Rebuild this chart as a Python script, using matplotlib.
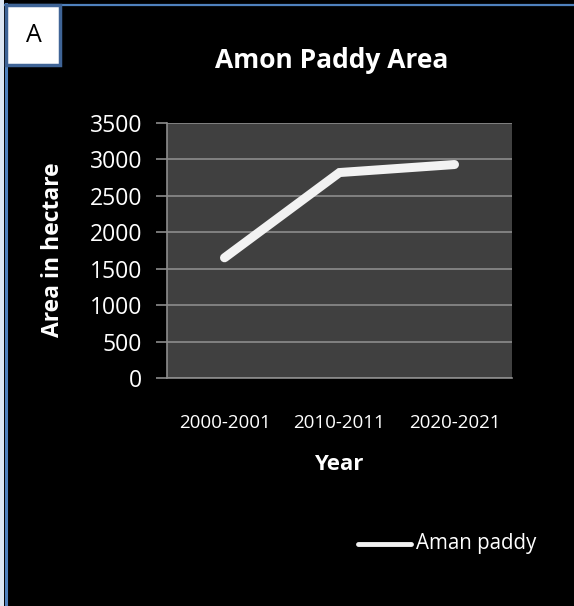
import matplotlib
matplotlib.use("Agg")
import matplotlib.pyplot as plt
from matplotlib.patches import Rectangle
from matplotlib.lines import Line2D

categories = ["2000-2001", "2010-2011", "2020-2021"]
aman_paddy = [1650, 2820, 2930]
yticks = [0, 500, 1000, 1500, 2000, 2500, 3000, 3500]

plt.rcParams['font.family'] = ['Open Sans', 'DejaVu Sans']

W, H = 574, 606
fig = plt.figure(figsize=(W/100, H/100), dpi=100)
fig.patch.set_facecolor('black')

def fx(px): return px / W
def fy(py): return 1 - py / H

# left white strip and blue borders (top & left)
fig.patches.append(Rectangle((0, 0), fx(4), 1, transform=fig.transFigure,
                             facecolor='#dce6f2', edgecolor='none', zorder=0))
fig.add_artist(Line2D([fx(5.5), fx(5.5)], [0, fy(4)], transform=fig.transFigure,
                      color='#4f81bd', lw=2.2))
fig.add_artist(Line2D([fx(5), 1], [fy(4.5), fy(4.5)], transform=fig.transFigure,
                      color='#4f81bd', lw=1.6))

ax = fig.add_axes([fx(167), fy(378), fx(512) - fx(167), fy(123) - fy(378)])
ax.set_facecolor('#404040')
x = list(range(len(categories)))
ax.plot(x, aman_paddy, color='#f2f2f2', lw=6.5, solid_capstyle='round',
        solid_joinstyle='miter', label='Aman paddy', zorder=3)
ax.set_xlim(-0.5, len(categories) - 0.5)
ax.set_ylim(0, 3500)
ax.set_yticks(yticks)
ax.set_yticklabels([str(v) for v in yticks])
ax.set_xticks(x)
ax.set_xticklabels(categories)
ax.yaxis.grid(True, color='#8c8c8c', lw=1.2)
ax.set_axisbelow(True)
for s in ['top', 'right']:
    ax.spines[s].set_visible(False)
ax.spines['left'].set_color('#8c8c8c')
ax.spines['bottom'].set_color('#8c8c8c')
ax.spines['left'].set_linewidth(1.2)
ax.spines['bottom'].set_linewidth(1.2)
ax.tick_params(axis='y', colors='#8c8c8c', length=8, width=1.2, labelcolor='white',
               labelsize=16.5, pad=10)
ax.tick_params(axis='x', length=0, labelcolor='white', labelsize=13.5, pad=26)

fig.text(fx(332), fy(60), 'Amon Paddy Area', color='white', fontsize=19,
         fontweight='bold', ha='center', va='center')
fig.text(fx(53), fy(250), 'Area in hectare', color='white', fontsize=16.5,
         fontweight='bold', ha='center', va='center', rotation=90)
fig.text(fx(339), fy(465), 'Year', color='white', fontsize=16,
         fontweight='bold', ha='center', va='center')

# legend
fig.add_artist(Line2D([fx(358), fx(411)], [fy(544), fy(544)], transform=fig.transFigure,
                      color='#f2f2f2', lw=3.5, solid_capstyle='round'))
fig.text(fx(416), fy(544), 'Aman paddy', color='white', fontsize=14.8,
         ha='left', va='center')

# "A" box
fig.patches.append(Rectangle((fx(6), fy(65)), fx(60) - fx(6), fy(5) - fy(65),
                             transform=fig.transFigure, facecolor='white',
                             edgecolor='#3f6496', lw=2.5, zorder=5))
fig.text(fx(34), fy(36), 'A', color='black', fontsize=18, ha='center', va='center',
         zorder=6)

fig.savefig('out.png', dpi=100, facecolor=fig.get_facecolor())
